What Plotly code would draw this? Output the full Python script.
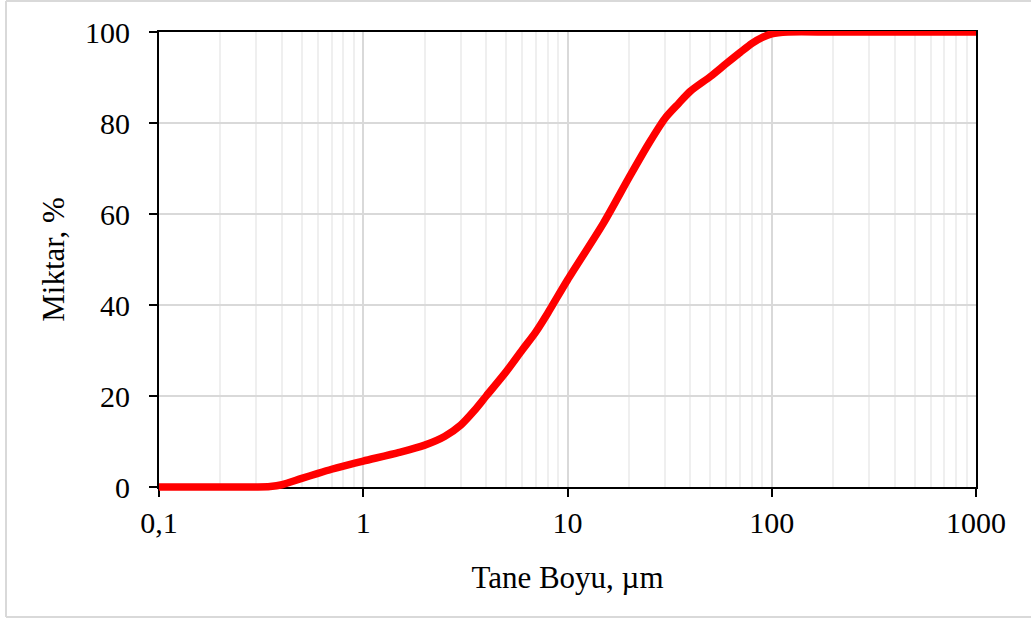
import plotly.graph_objects as go

# ---- data ----
size_um = [0.1, 0.2, 0.3, 0.35, 0.4, 0.5, 0.6, 0.7, 0.8, 1, 1.5, 2, 2.5, 3, 3.5, 4, 5, 6, 7, 8, 10,
           15, 20, 25, 30, 35, 40, 50, 60, 70, 80, 90, 100, 120, 200, 500, 1000]
amount_pct = [0, 0, 0, 0.1, 0.5, 1.9, 3.0, 3.9, 4.6, 5.7, 7.6, 9.2, 11.1, 13.6, 16.8, 20, 25.3, 30.1, 34.1, 38.2, 45.5,
              58, 68, 75.5, 81, 84.3, 87, 90.2, 93.1, 95.5, 97.5, 98.8, 99.6, 100, 100, 100, 100]
x_tickvals = [0.1, 1, 10, 100, 1000]
x_ticktext = ["0,1", "1", "10", "100", "1000"]
y_tickvals = [0, 20, 40, 60, 80, 100]

# ---- layout geometry (pixels) ----
W, H = 1031, 620
AX_L, AX_R, AX_T, AX_B = 159, 976, 32, 487     # axis box
EXT_L, EXT_R, EXT_T, EXT_B = 5, 2, 1, 5       # extra room for the thick line
PL, PR, PT, PB = AX_L - EXT_L, AX_R + EXT_R, AX_T - EXT_T, AX_B + EXT_B
pw, ph = PR - PL, PB - PT
xlog_min, xlog_max = -1, 3
ppd = (AX_R - AX_L) / (xlog_max - xlog_min)
ppu = (AX_B - AX_T) / 100.0

FONT = "Liberation Serif"

fig = go.Figure()
# helper (invisible) trace on the main axes so they are drawn
fig.add_trace(go.Scatter(x=[0.1, 1000], y=[0, 100], mode="markers",
                         marker=dict(opacity=0), showlegend=False, hoverinfo="skip"))
fig.add_trace(go.Scatter(
    x=size_um, y=amount_pct, mode="lines",
    line=dict(color="#ff0000", width=7.5, shape="spline", smoothing=0.8),
    xaxis="x2", yaxis="y2", showlegend=False, hoverinfo="x+y"))

fig.update_layout(
    width=W, height=H,
    margin=dict(l=PL, r=W - PR, t=PT, b=H - PB, autoexpand=False),
    paper_bgcolor="white", plot_bgcolor="rgba(0,0,0,0)",
    font=dict(family=FONT, size=30, color="black"),
    xaxis=dict(
        type="log", range=[xlog_min, xlog_max],
        domain=[EXT_L / pw, (EXT_L + AX_R - AX_L) / pw],
        tickvals=x_tickvals, ticktext=x_ticktext,
        ticks="outside", ticklen=8, tickwidth=2, tickcolor="black",
        showline=True, linecolor="black", linewidth=2, mirror=True,
        showgrid=True, gridcolor="#d9d9d9", gridwidth=1.5,
        minor=dict(dtick="D1", showgrid=True, gridcolor="#efefef", gridwidth=1.5, ticks=""),
        zeroline=False, ticklabelstandoff=0, automargin=False,
        title=dict(text="Tane Boyu, µm", standoff=28, font=dict(size=31)),
        anchor="y",
    ),
    yaxis=dict(
        range=[0, 100],
        domain=[EXT_B / ph, (EXT_B + AX_B - AX_T) / ph],
        tickvals=y_tickvals,
        ticks="outside", ticklen=8, tickwidth=2, tickcolor="black",
        showline=True, linecolor="black", linewidth=2, mirror=True,
        showgrid=True, gridcolor="#d9d9d9", gridwidth=1.5,
        zeroline=False, ticklabelstandoff=13, automargin=False,
        title=dict(text="Miktar, %", standoff=11, font=dict(size=31)),
        anchor="x",
    ),
    xaxis2=dict(
        type="log", domain=[0, 1], anchor="y2",
        range=[xlog_min - EXT_L / ppd, xlog_max + EXT_R / ppd],
        visible=False, showgrid=False, zeroline=False, automargin=False,
    ),
    yaxis2=dict(
        domain=[0, 1], anchor="x2",
        range=[0 - EXT_B / ppu, 100 + EXT_T / ppu],
        visible=False, showgrid=False, zeroline=False, automargin=False,
    ),
)

# light outer frame of the chart area
def px_x(p):
    return (p - PL) / pw

def px_y(p):
    return (PB - p) / ph

frame = dict(color="#d9d9d9", width=2)
fig.add_shape(type="line", xref="paper", yref="paper",
              x0=px_x(6), x1=px_x(1035), y0=px_y(1), y1=px_y(1), line=frame)
fig.add_shape(type="line", xref="paper", yref="paper",
              x0=px_x(6), x1=px_x(6), y0=px_y(1), y1=px_y(617), line=frame)
fig.add_shape(type="line", xref="paper", yref="paper",
              x0=px_x(6), x1=px_x(1035), y0=px_y(617), y1=px_y(617), line=frame)

fig.write_html("out.html", config={"displayModeBar": False},
               post_script="document.body.style.margin='0px';")
